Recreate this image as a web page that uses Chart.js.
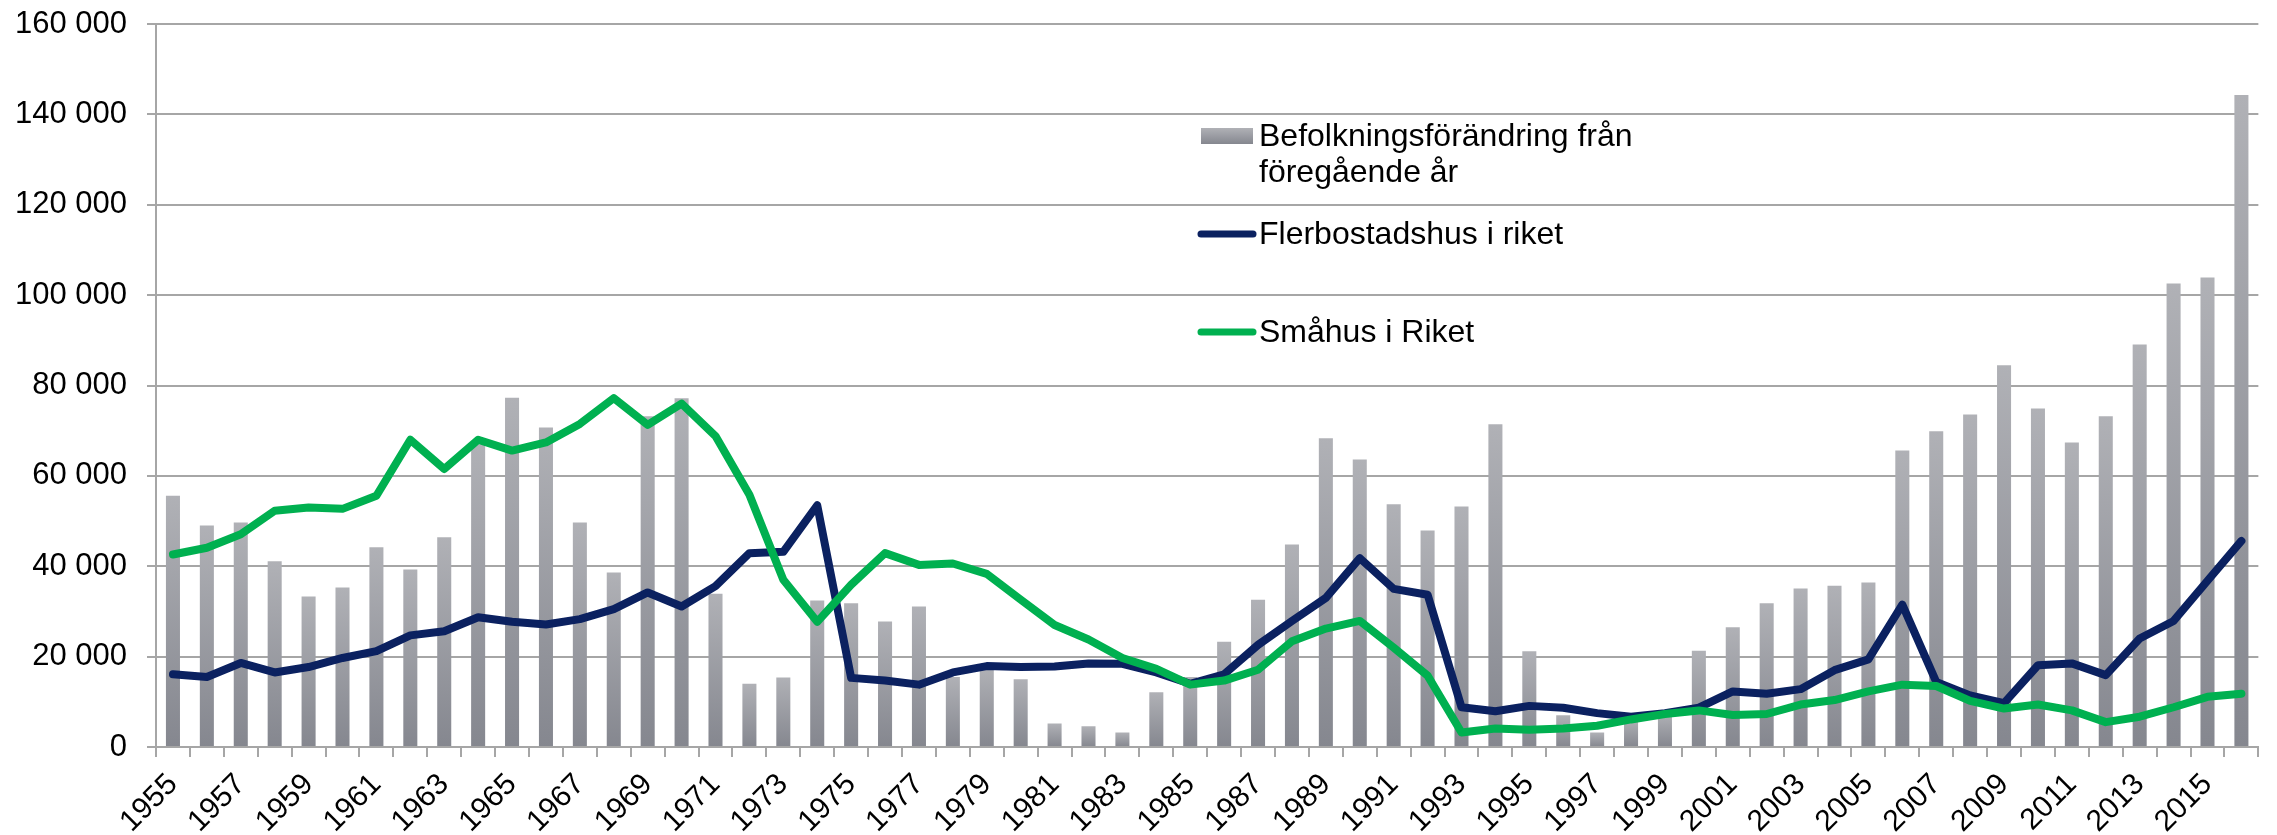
<!DOCTYPE html>
<html>
<head>
<meta charset="utf-8">
<script src="https://cdn.jsdelivr.net/npm/chart.js@4.4.1/dist/chart.umd.min.js"></script>
<style>
  html, body { margin: 0; padding: 0; background: #fff; }
  #wrap { width: 2277px; height: 835px; }
</style>
</head>
<body>
<div id="wrap"><canvas id="chart" width="2277" height="835"></canvas></div>
<script>
// years on the x axis
const years = [];
for (let y = 1955; y <= 2016; y++) years.push(String(y));

// population change from previous year (bars)
const befolkning = [
  55600, 49000, 49700, 41100, 33300, 35300, 44200, 39300, 46400, 67000,
  77300, 70700, 49700, 38600, 73200, 77200, 33900, 14000, 15400, 32400,
  31800, 27800, 31100, 15500, 17500, 15000, 5200, 4600, 3200, 12100,
  15500, 23300, 32600, 44800, 68300, 63600, 53700, 47900, 53200, 71400,
  21200, 7000, 3200, 6100, 7300, 21300, 26500, 31800, 35100, 35700,
  36400, 65600, 69900, 73600, 84500, 74900, 67400, 73200, 89100, 102600,
  103900, 144300
];

// completed dwellings, multi-dwelling buildings
const flerbostadshus = [
  16100, 15500, 18600, 16500, 17700, 19700, 21200, 24700, 25600, 28700,
  27700, 27100, 28300, 30500, 34200, 31100, 35600, 42900, 43200, 53500,
  15300, 14700, 13800, 16500, 17900, 17700, 17800, 18500, 18400, 16500,
  14000, 16100, 22600, 27900, 33000, 41800, 35000, 33700, 8800, 7900,
  9100, 8700, 7500, 6700, 7500, 8700, 12300, 11800, 12800, 17000,
  19400, 31500, 14400, 11400, 9700, 18100, 18500, 15900, 24000, 27900,
  36800, 45600
];

// completed dwellings, one- or two-dwelling buildings
const smahus = [
  42600, 44100, 47100, 52300, 53000, 52700, 55600, 68000, 61500, 68000,
  65600, 67400, 71500, 77200, 71300, 76000, 68800, 55800, 37000, 27700,
  35900, 42900, 40300, 40600, 38300, 32600, 27000, 23800, 19700, 17300,
  13800, 14700, 17100, 23400, 26200, 27900, 22000, 15800, 3200, 4100,
  3800, 4100, 4700, 6100, 7300, 8100, 7100, 7300, 9400, 10400,
  12300, 13800, 13500, 10200, 8500, 9400, 8100, 5500, 6700, 8800,
  11100, 11800
];

const yTicks = { min: 0, max: 160000, step: 20000 };

const FONT = "'Liberation Sans', Arial, sans-serif";
const NAVY = '#0b2160';
const GREEN = '#00b050';
const GRID = '#a6a6a6';

// gray bar gradient, light at top and darker at the base of each bar
function barFill(ctx) {
  const chart = ctx.chart;
  const ys = chart.scales && chart.scales.y;
  if (!ys || ctx.type !== 'data') return '#9c9da3';
  const top = ys.getPixelForValue(ctx.raw);
  const base = ys.getPixelForValue(0);
  if (!isFinite(top) || !isFinite(base) || base - top < 1) return '#9c9da3';
  const g = chart.ctx.createLinearGradient(0, top, 0, base);
  g.addColorStop(0, '#b0b1b6');
  g.addColorStop(1, '#85878f');
  return g;
}

// legend drawn by hand so the first label can wrap on two lines
const sideLegend = {
  id: 'sideLegend',
  afterDraw(chart) {
    const c = chart.ctx;
    c.save();
    c.font = '32px ' + FONT;
    c.fillStyle = '#000';
    c.textBaseline = 'middle';
    const textX = 1259;

    // bar swatch
    const g = c.createLinearGradient(0, 128, 0, 144);
    g.addColorStop(0, '#b0b1b6');
    g.addColorStop(1, '#85878f');
    c.fillStyle = g;
    c.fillRect(1201, 128, 52, 16);
    c.fillStyle = '#000';
    c.fillText('Befolkningsförändring från', textX, 137);
    c.fillText('föregående år', textX, 173);

    const lines = [
      { label: chart.data.datasets[1].label, color: NAVY, y: 234 },
      { label: chart.data.datasets[2].label, color: GREEN, y: 332 }
    ];
    lines.forEach((l) => {
      c.strokeStyle = l.color;
      c.lineWidth = 7;
      c.lineCap = 'round';
      c.beginPath();
      c.moveTo(1201, l.y);
      c.lineTo(1253, l.y);
      c.stroke();
      c.fillText(l.label, textX, l.y + 1);
    });
    c.restore();
  }
};

const chart = new Chart(document.getElementById('chart'), {
  type: 'bar',
  data: {
    labels: years,
    datasets: [
      {
        type: 'bar',
        label: 'Befolkningsförändring från föregående år',
        data: befolkning,
        backgroundColor: barFill,
        barPercentage: 0.9,
        categoryPercentage: 0.46,
        order: 2
      },
      {
        type: 'line',
        label: 'Flerbostadshus i riket',
        data: flerbostadshus,
        borderColor: NAVY,
        borderWidth: 8,
        pointRadius: 0,
        tension: 0,
        borderJoinStyle: 'round',
        borderCapStyle: 'round',
        order: 1
      },
      {
        type: 'line',
        label: 'Småhus i Riket',
        data: smahus,
        borderColor: GREEN,
        borderWidth: 8,
        pointRadius: 0,
        tension: 0,
        borderJoinStyle: 'round',
        borderCapStyle: 'round',
        order: 0
      }
    ]
  },
  options: {
    responsive: false,
    animation: false,
    layout: { padding: { top: 24, right: 17, left: 15, bottom: 0 } },
    plugins: {
      legend: { display: false },
      tooltip: { enabled: false }
    },
    scales: {
      x: {
        offset: true,
        grid: {
          offset: true,
          drawOnChartArea: false,
          drawTicks: true,
          tickLength: 10,
          color: GRID,
          lineWidth: 2
        },
        border: { color: GRID, width: 2 },
        ticks: {
          autoSkip: false,
          minRotation: 45,
          maxRotation: 45,
          padding: 10,
          color: '#000',
          font: { family: FONT, size: 30 },
          callback: (v, i) => (i % 2 === 0 ? years[i] : '')
        },
        afterFit: (scale) => {
          scale.height = 88;
          scale.paddingLeft = 0;
        }
      },
      y: {
        min: yTicks.min,
        max: yTicks.max,
        grid: {
          color: GRID,
          lineWidth: 2,
          tickLength: 9
        },
        border: { color: GRID, width: 2 },
        ticks: {
          stepSize: yTicks.step,
          padding: 20,
          color: '#000',
          font: { family: FONT, size: 31 },
          callback: (v) => String(v).replace(/\B(?=(\d{3})+(?!\d))/g, ' ')
        },
        // the labels may hang over the top edge like in the original
        afterFit: (scale) => {
          scale.width = 141;
          scale.paddingTop = 0;
          scale.paddingBottom = 0;
        }
      }
    }
  },
  plugins: [sideLegend]
});
</script>
</body>
</html>
